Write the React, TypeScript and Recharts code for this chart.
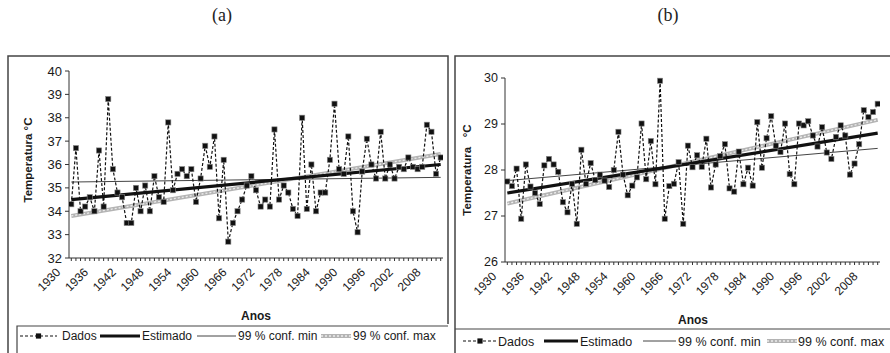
import React from "react";
import { LineChart, Line, XAxis, YAxis } from "recharts";

// categories (years) and axis labels
const years = [
  1930, 1931, 1932, 1933, 1934, 1935, 1936, 1937, 1938, 1939,
  1940, 1941, 1942, 1943, 1944, 1945, 1946, 1947, 1948, 1949,
  1950, 1951, 1952, 1953, 1954, 1955, 1956, 1957, 1958, 1959,
  1960, 1961, 1962, 1963, 1964, 1965, 1966, 1967, 1968, 1969,
  1970, 1971, 1972, 1973, 1974, 1975, 1976, 1977, 1978, 1979,
  1980, 1981, 1982, 1983, 1984, 1985, 1986, 1987, 1988, 1989,
  1990, 1991, 1992, 1993, 1994, 1995, 1996, 1997, 1998, 1999,
  2000, 2001, 2002, 2003, 2004, 2005, 2006, 2007, 2008, 2009,
  2010,
];
const xLabels = [1930, 1936, 1942, 1948, 1954, 1960, 1966, 1972, 1978, 1984, 1990, 1996, 2002, 2008];

// panel (a) observed temperatures
const tempA = [
  34.3, 36.7, 34.0, 34.2, 34.6, 34.0, 36.6, 34.2, 38.8, 35.8,
  34.8, 34.6, 33.5, 33.5, 35.0, 34.0, 35.1, 34.0, 35.5, 34.6,
  34.4, 37.8, 34.9, 35.6, 35.8, 35.5, 35.8, 34.4, 35.4, 36.8,
  35.9, 37.2, 33.7, 36.2, 32.7, 33.5, 34.0, 34.5, 35.1, 35.5,
  34.9, 34.2, 34.5, 34.2, 37.5, 34.5, 35.1, 34.8, 34.1, 33.8,
  38.0, 34.1, 36.0, 34.0, 34.8, 34.8, 36.2, 38.6, 35.8, 35.6,
  37.2, 34.0, 33.1, 35.7, 37.1, 36.0, 35.4, 37.4, 35.4, 36.0,
  35.4, 35.9, 35.8, 36.3, 35.9, 35.8, 35.9, 37.7, 37.4, 35.6,
  36.3,
];

// panel (b) observed temperatures
const tempB = [
  27.75, 27.65, 28.03, 26.94, 28.12, 27.64, 27.5, 27.26, 28.1, 28.24,
  28.12, 27.96, 27.3, 27.08, 27.7, 26.83, 28.44, 27.7, 28.15, 27.78,
  27.9, 27.77, 27.63, 28.0, 28.83, 27.9, 27.45, 27.66, 27.84, 29.01,
  27.8, 28.63, 27.69, 29.94, 26.94, 27.65, 27.7, 28.17, 26.83, 28.53,
  28.06, 28.32, 28.07, 28.68, 27.62, 28.12, 28.3, 28.56, 27.6, 27.53,
  28.4, 27.69, 28.05, 27.66, 29.04, 28.05, 28.69, 29.17, 28.53, 28.39,
  29.01, 27.91, 27.69, 29.01, 28.97, 29.06, 28.75, 28.51, 28.93, 28.38,
  28.24, 28.72, 28.97, 28.75, 27.9, 28.14, 28.56, 29.3, 29.15, 29.26,
  29.44,
];

// straight lines: end points only
const trendYears = [1930, 2010];
const estA = [34.5, 36.0];
const minA = [35.25, 35.45];
const maxA = [33.8, 36.45];
const estB = [27.5, 28.8];
const minB = [27.77, 28.47];
const maxB = [27.27, 29.09];

const yTicksA = [32, 33, 34, 35, 36, 37, 38, 39, 40];
const yTicksB = [26, 27, 28, 29, 30];

const font = "'Liberation Sans', Arial, sans-serif";
const serif = "'Liberation Serif', 'Times New Roman', serif";
const ink = "#1a1a1a";

function SquareDot(props: any) {
  const { cx, cy, index } = props;
  if (cx == null || cy == null) return null;
  return (
    <rect key={index} x={cx - 2.6} y={cy - 2.6} width={5.2} height={5.2} fill="#111" stroke="#8a8a8a" strokeWidth={0.6} />
  );
}

function XTick(props: any) {
  const { x, y, payload } = props;
  if (!xLabels.includes(payload.value)) return <g />;
  const ax = x - 10;
  const ay = y + 10;
  return (
    <text x={ax} y={ay} transform={`rotate(-45 ${ax} ${ay})`} textAnchor="end" fontSize={12} fill={ink} fontFamily={font}>
      {payload.value}
    </text>
  );
}

function Panel(p: {
  temps: number[];
  est: number[];
  min: number[];
  max: number[];
  yDomain: [number, number];
  yTicks: number[];
  width: number;
  height: number;
  margin: { top: number; right: number; bottom: number; left: number };
  yWidth: number;
  yFont: number;
}) {
  const data = years.map((year, i) => ({ year, temp: p.temps[i] }));
  const trend = trendYears.map((year, i) => ({ year, est: p.est[i], min: p.min[i], max: p.max[i] }));
  return (
    <LineChart width={p.width} height={p.height} data={data} margin={p.margin}>
      <XAxis
        dataKey="year"
        type="number"
        domain={[1929.5, 2010.5]}
        ticks={years}
        interval={0}
        allowDataOverflow
        tick={<XTick />}
        tickSize={3}
        tickLine={{ stroke: "#333" }}
        axisLine={{ stroke: "#333" }}
        height={50}
      />
      <YAxis
        type="number"
        domain={p.yDomain}
        ticks={p.yTicks}
        interval={0}
        width={p.yWidth}
        tickSize={4}
        tickMargin={3}
        tickLine={{ stroke: "#333" }}
        axisLine={{ stroke: "#333" }}
        tick={{ fill: ink, fontSize: p.yFont, fontFamily: font }}
      />
      <Line data={trend} dataKey="max" stroke="#b4b4b4" strokeWidth={4} dot={false} isAnimationActive={false} />
      <Line data={trend} dataKey="max" stroke="#ececec" strokeWidth={1.3} strokeDasharray="2 2" dot={false} isAnimationActive={false} />
      <Line data={trend} dataKey="min" stroke="#444" strokeWidth={1} dot={false} isAnimationActive={false} />
      <Line data={trend} dataKey="est" stroke="#111" strokeWidth={3.2} dot={false} isAnimationActive={false} />
      <Line dataKey="temp" stroke="#111" strokeWidth={1.2} strokeDasharray="3 2" dot={<SquareDot />} isAnimationActive={false} />
    </LineChart>
  );
}

function LegendRow({ y, xs, size }: { y: number; xs: number[]; size: number }) {
  // xs: dados line start/end, text, estimado line start/end, text, min start/end, text, max start/end, text
  const [d0, d1, dt, e0, e1, et, n0, n1, nt, m0, m1, mt] = xs;
  const ty = y + size * 0.36;
  const t = { fontSize: size, fill: ink, fontFamily: font };
  return (
    <g>
      <line x1={d0} x2={d1} y1={y} y2={y} stroke="#111" strokeWidth={1.2} strokeDasharray="3 2" />
      <rect x={(d0 + d1) / 2 - 2.6} y={y - 2.6} width={5.2} height={5.2} fill="#111" />
      <text x={dt} y={ty} {...t}>Dados</text>
      <line x1={e0} x2={e1} y1={y} y2={y} stroke="#111" strokeWidth={3.2} />
      <text x={et} y={ty} {...t}>Estimado</text>
      <line x1={n0} x2={n1} y1={y} y2={y} stroke="#444" strokeWidth={1} />
      <text x={nt} y={ty} {...t}>99 % conf. min</text>
      <line x1={m0} x2={m1} y1={y} y2={y} stroke="#b4b4b4" strokeWidth={4} />
      <line x1={m0} x2={m1} y1={y} y2={y} stroke="#ececec" strokeWidth={1.3} strokeDasharray="2 2" />
      <text x={mt} y={ty} {...t}>99 % conf. max</text>
    </g>
  );
}

export default function App() {
  return (
    <div style={{ position: "absolute", left: 0, top: 0, width: 890, height: 353, background: "#fff", overflow: "hidden" }}>
      <div style={{ position: "absolute", left: 8, top: 56 }}>
        <Panel
          temps={tempA}
          est={estA}
          min={minA}
          max={maxA}
          yDomain={[32, 40]}
          yTicks={yTicksA}
          width={440}
          height={270}
          margin={{ top: 15, right: 5, bottom: 18, left: 0 }}
          yWidth={61}
          yFont={13}
        />
      </div>
      <div style={{ position: "absolute", left: 455, top: 56 }}>
        <Panel
          temps={tempB}
          est={estB}
          min={minB}
          max={maxB}
          yDomain={[26, 30]}
          yTicks={yTicksB}
          width={435}
          height={273}
          margin={{ top: 22, right: 10, bottom: 17, left: 0 }}
          yWidth={50}
          yFont={12.5}
        />
      </div>
      <svg width={890} height={353} style={{ position: "absolute", left: 0, top: 0, pointerEvents: "none" }}>
        <text x={222} y={21} textAnchor="middle" fontSize={18} fontFamily={serif} fill="#222">(a)</text>
        <text x={668} y={21} textAnchor="middle" fontSize={18} fontFamily={serif} fill="#222">(b)</text>

        {/* panel (a) frame and legend box */}
        <path d="M8 353 V56 H448 V324" fill="none" stroke="#444" strokeWidth={1.5} />
        <path d="M17 353 V326 H448" fill="none" stroke="#444" strokeWidth={1.2} />
        {/* panel (b) frame and legend box */}
        <path d="M455 353 V56 H890" fill="none" stroke="#444" strokeWidth={1.5} />
        <path d="M455 329 H890" fill="none" stroke="#444" strokeWidth={1.2} />

        <text transform="rotate(-90 32 160)" x={32} y={160} textAnchor="middle" fontSize={11.5} fontWeight="bold" fontFamily={font} fill={ink}>
          Temperatura °C
        </text>
        <text transform="rotate(-90 471 170)" x={471} y={170} textAnchor="middle" fontSize={11.5} fontWeight="bold" fontFamily={font} fill={ink} style={{ whiteSpace: "pre" }}>
          {"Temperatura   °C"}
        </text>
        <text x={256} y={320} textAnchor="middle" fontSize={12} fontWeight="bold" fontFamily={font} fill={ink}>Anos</text>
        <text x={693} y={324} textAnchor="middle" fontSize={12} fontWeight="bold" fontFamily={font} fill={ink}>Anos</text>

        <LegendRow y={336} size={12} xs={[20, 57, 62, 100, 140, 142, 197, 236, 238, 321, 351, 353]} />
        <LegendRow y={341} size={12.5} xs={[463, 497, 498, 544, 578, 580, 643, 676, 678, 767, 797, 798]} />
      </svg>
    </div>
  );
}
